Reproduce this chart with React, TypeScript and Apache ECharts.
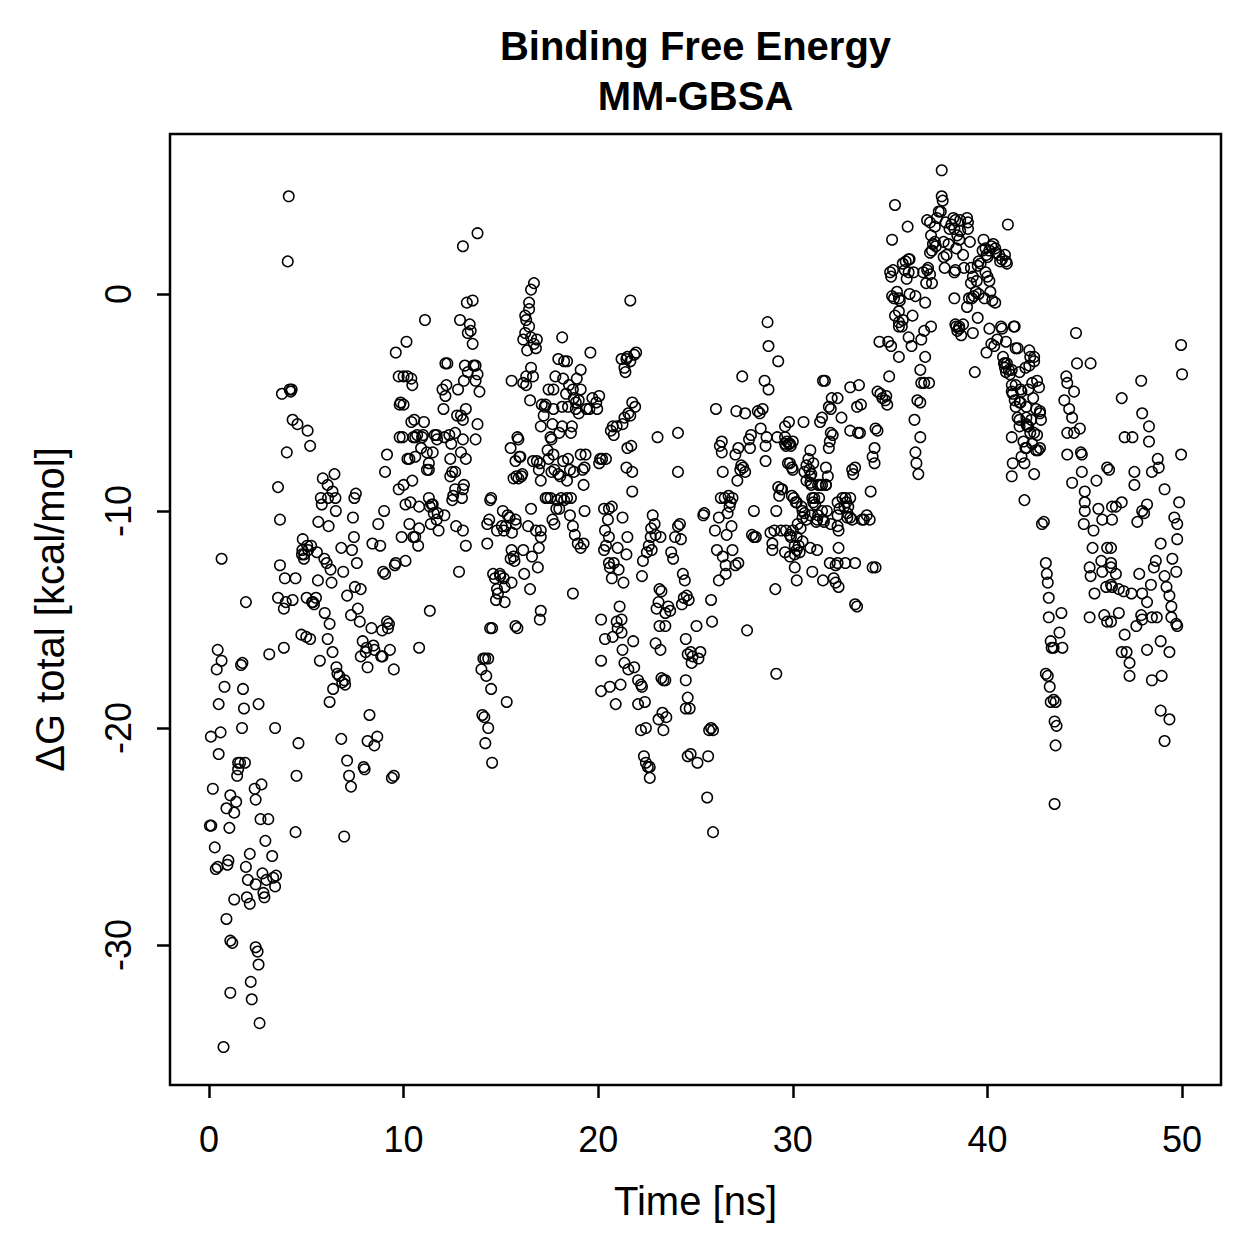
import { useEffect, useRef } from "react";
import * as echarts from "echarts";

const titleLines = ["Binding Free Energy", "MM-GBSA"];
const xLabel = "Time [ns]";
const yLabel = "ΔG total [kcal/mol]";
const xTicks = [0, 10, 20, 30, 40, 50];
const yTicks = [-30, -20, -10, 0];
const xRange = [-2, 52];
const yRange = [-36.45, 7.37];

// [time (ns), dG (kcal/mol)]
const seg0to5 = [
  [0.1,-20.4],[0.05,-24.5],[0.12,-24.5],[0.2,-22.8],[0.3,-25.5],[0.45,-26.4],[0.35,-26.5],[0.5,-18.9],[0.4,-17.3],[0.45,-16.4],
  [0.65,-16.9],[0.5,-21.2],[0.6,-20.2],[0.65,-12.2],[0.75,-34.7],[0.8,-18.1],[0.9,-28.8],[0.9,-23.7],[0.95,-26.3],[1.0,-26.1],
  [1.05,-24.6],[1.1,-23.1],[1.1,-29.8],[1.2,-29.9],[1.1,-32.2],[1.3,-27.9],[1.3,-23.9],[1.4,-23.4],[1.5,-21.9],[1.5,-21.6],[1.6,-21.6],
  [1.45,-22.2],[1.65,-17.1],[1.72,-17.0],[1.7,-20.0],[1.75,-18.2],[1.8,-19.1],[1.85,-21.6],[1.9,-26.4],[1.95,-27.8],[1.9,-14.2],
  [2.0,-27.0],[2.1,-25.8],[2.1,-28.1],[2.15,-31.7],[2.2,-32.5],[2.35,-22.8],[2.4,-23.3],[2.4,-27.2],[2.4,-30.1],[2.5,-30.3],
  [2.55,-30.9],[2.6,-33.6],[2.55,-18.9],[2.65,-24.2],[2.7,-22.6],[2.75,-26.7],[2.8,-27.6],[2.85,-27.8],[2.9,-25.2],[2.95,-27.0],
  [3.05,-24.2],[3.1,-16.6],[3.25,-25.9],[3.3,-26.9],[3.4,-27.3],[3.45,-26.8],[3.4,-20.0],[3.55,-8.9],[3.55,-14.0],[3.65,-10.4],
  [3.65,-12.5],[3.75,-4.6],[3.85,-16.3],[3.9,-13.1],[3.85,-14.5],[3.95,-14.2],[4.0,-7.3],[4.1,4.5],[4.05,1.5],[4.15,-4.4],
  [4.25,-4.4],[4.2,-4.5],[4.3,-5.8],[4.3,-14.1],[4.45,-13.1],[4.45,-24.8],[4.5,-22.2],[4.6,-20.7],[4.55,-6.0],[4.75,-15.7]
];

const seg5to10 = [
  [4.8,-11.8],[4.78,-12.0],[4.82,-11.3],[4.9,-12.0],[4.88,-12.2],[5.0,-15.8],[5.02,-14.0],[5.07,-6.3],[5.05,-11.6],[5.1,-11.8],
  [5.2,-15.9],[5.2,-7.0],[5.25,-11.6],[5.3,-14.2],[5.35,-14.2],[5.4,-14.3],[5.5,-14.0],[5.55,-11.9],[5.6,-13.2],[5.62,-10.5],
  [5.7,-16.9],[5.85,-8.5],[5.75,-9.4],[5.8,-9.7],[5.95,-14.7],[5.93,-12.2],[6.05,-12.4],[6.1,-8.8],[6.12,-9.4],[6.15,-10.7],
  [6.2,-15.2],[6.1,-15.9],[6.2,-18.8],[6.3,-13.3],[6.25,-12.7],[6.35,-16.5],[6.38,-18.2],[6.35,-9.1],[6.45,-8.3],[6.5,-9.4],
  [6.52,-10.0],[6.55,-17.2],[6.6,-17.5],[6.7,-17.6],[6.8,-11.7],[6.8,-20.5],[6.9,-12.8],[6.85,-17.9],[6.95,-25.0],[6.97,-17.8],
  [7.1,-13.9],[7.0,-18.0],[7.2,-22.2],[7.3,-22.7],[7.1,-21.5],[7.3,-14.8],[7.35,-11.8],[7.4,-10.3],[7.45,-11.2],[7.47,-9.4],
  [7.5,-13.5],[7.55,-9.2],[7.6,-12.4],[7.65,-14.5],[7.75,-15.1],[7.8,-13.6],[7.8,-16.7],[7.9,-16.0],[8.0,-21.9],[7.95,-21.8],
  [8.05,-16.5],[8.1,-16.3],[8.15,-20.6],[8.25,-19.4],[8.15,-17.2],[8.35,-15.4],[8.45,-16.2],[8.4,-11.5],[8.5,-20.8],[8.5,-16.4],
  [8.65,-20.4],[8.8,-11.6],[8.7,-10.6],[8.85,-16.7],[8.9,-15.5],[8.92,-16.7],[9.0,-10.0],[9.05,-8.2],[9.15,-7.4],[8.95,-12.8],
  [9.05,-12.9],[9.2,-15.4],[9.25,-15.2],[9.3,-16.4],[9.15,-15.1],[9.4,-22.3],[9.5,-22.2],[9.5,-17.3],[9.55,-12.5],[9.6,-12.4]
];

const seg10to14 = [
  [9.6,-2.7],[10.15,-2.2],[9.75,-3.8],[10.0,-3.8],[10.2,-3.8],[10.4,-3.9],[10.45,-4.2],[9.85,-5.0],[9.8,-5.1],[10.0,-5.1],
  [10.4,-5.9],[10.55,-5.8],[10.6,-6.6],[10.5,-6.6],[9.95,-6.6],[9.8,-6.6],[10.2,-7.6],[10.3,-7.6],[9.75,-9.0],[10.0,-8.8],
  [10.45,-8.6],[10.35,-9.6],[10.1,-9.7],[10.3,-10.6],[10.5,-11.2],[10.6,-11.2],[9.9,-11.2],[10.8,-9.8],[10.8,-10.8],[10.75,-11.6],
  [10.6,-7.5],[10.9,-7.1],[10.95,-6.6],[10.7,-6.5],[11.05,-5.9],[11.0,-6.5],[11.1,-1.2],[11.3,-7.8],[11.3,-8.1],[11.2,-8.1],
  [11.2,-7.3],[11.3,-9.4],[11.35,-9.8],[11.4,-10.6],[11.45,-9.7],[11.5,-9.7],[11.55,-10.1],[11.35,-14.6],[11.5,-7.3],[11.6,-6.5],
  [11.7,-6.5],[11.72,-6.7],[11.75,-10.1],[11.7,-10.4],[11.8,-10.9],[12.1,-10.2],[12.05,-5.3],[12.1,-6.6],[12.2,-4.2],[12.15,-4.7],
  [12.0,-4.4],[12.25,-3.2],[12.15,-3.2],[12.35,-6.5],[12.4,-7.6],[12.45,-6.9],[12.4,-8.4],[12.5,-8.2],[12.5,-9.5],[12.65,-8.2],
  [12.55,-9.3],[12.7,-10.7],[12.65,-9.0],[12.65,-6.4],[12.75,-5.6],[12.8,-4.4],[12.95,-5.6],[12.95,-7.3],[13.05,-6.7],[13.05,-5.8],
  [13.0,-9.4],[13.05,-10.9],[13.05,-9.0],[13.2,-11.6],[13.1,-8.8],[13.2,-7.6],[13.2,-5.3],[13.1,-4.0],[13.15,-3.3],[13.3,-3.6],
  [12.85,-12.8],[13.3,-1.8],[13.4,-1.4],[13.55,-0.3],[13.25,-0.4],[12.9,-1.2],[13.05,2.2],[13.8,2.8],[13.55,-2.3],[13.45,-1.7],
  [13.6,-3.3],[13.7,-4.0],[13.7,-3.3],[13.8,-3.7],[13.8,-6.0],[13.7,-6.7],[13.9,-4.5],[10.1,-12.3],[10.8,-16.3]
];

const seg14to18 = [
  [14.1,-16.8],[14.2,-16.8],[14.25,-17.6],[14.35,-16.8],[14.0,-17.3],[14.05,-19.4],[14.15,-19.5],[14.2,-20.7],[14.35,-20.0],[14.5,-18.2],
  [14.55,-15.4],[14.45,-15.4],[14.55,-21.6],[14.3,-10.6],[14.3,-11.5],[14.4,-10.4],[14.45,-9.5],[14.5,-9.4],[14.6,-12.9],[14.7,-13.1],
  [14.8,-10.9],[14.75,-14.1],[14.8,-13.6],[14.85,-13.8],[14.95,-12.9],[14.97,-13.0],[15.05,-10.7],[15.1,-10.0],[15.15,-13.1],[15.2,-13.5],
  [15.2,-14.2],[15.25,-10.7],[15.3,-18.8],[15.15,-10.9],[15.35,-10.2],[15.45,-10.3],[15.5,-12.2],[15.55,-11.8],[15.55,-13.3],[15.57,-11.0],
  [15.65,-12.1],[15.75,-10.4],[15.7,-12.3],[15.77,-10.6],[15.75,-15.3],[15.85,-15.4],[15.8,-8.4],[15.9,-8.5],[15.5,-7.1],[15.55,-4.0],
  [15.65,-8.5],[15.75,-7.7],[15.95,-7.5],[16.05,-8.4],[16.1,-8.3],[16.0,-7.5],[15.9,-6.7],[15.85,-6.6],[16.15,-4.1],[16.25,-1.8],
  [16.35,-2.6],[16.3,-1.2],[16.45,-0.4],[16.55,0.2],[16.7,0.5],[16.7,-2.3],[16.8,-2.5],[16.55,-3.4],[16.5,-4.9],[16.3,-4.2],
  [16.15,-2.1],[16.4,-10.7],[16.15,-11.8],[16.2,-12.9],[16.5,-13.6],[16.6,-12.1],[16.55,-9.9],[16.8,-10.9],[16.9,-12.6],[17.05,-10.9],
  [16.95,-11.7],[17.0,-15.0],[17.05,-14.6],[17.05,-11.2],[17.0,-7.8],[17.05,-8.6],[16.95,-8.1],[16.65,-7.7],[16.85,-7.7],[17.05,-6.1],
  [17.3,-5.1],[17.45,-4.4],[17.45,-7.6],[17.6,-8.2],[17.55,-6.6],[17.7,-7.4],[17.75,-8.1],[16.45,-0.7],[16.25,-1.0],[16.45,-1.5],
  [16.55,-2.0],[16.85,-2.1],[18.15,-2.0],[17.95,-3.0],[18.4,-3.1],[19.1,-3.5],[16.3,-3.8],[16.65,-3.8],[17.8,-3.8],[17.7,-4.4]
];

const seg18to25 = [
  [17.1,-5.1],[17.2,-5.6],[17.25,-5.2],[17.3,-9.4],[17.4,-9.4],[17.55,-9.4],[17.4,-7.2],[17.6,-6.7],[17.65,-6.0],[17.7,-5.3],
  [17.9,-9.5],[17.95,-8.3],[18.0,-6.4],[18.15,-6.1],[18.25,-3.1],[18.15,-5.2],[18.2,-3.9],[18.35,-4.6],[18.45,-5.2],[18.5,-4.2],
  [18.7,-4.4],[18.75,-4.8],[18.9,-3.9],[19.0,-4.9],[19.1,-4.4],[18.85,-5.0],[18.65,-6.1],[18.6,-6.4],[18.85,-5.3],[19.0,-5.5],
  [19.2,-8.1],[19.3,-8.0],[19.35,-7.4],[19.1,-7.4],[18.75,-8.2],[18.55,-8.1],[18.45,-7.6],[18.4,-8.6],[18.2,-7.7],[18.05,-8.4],
  [17.85,-9.9],[17.65,-10.4],[17.75,-10.6],[18.0,-9.9],[18.1,-9.4],[18.25,-9.5],[18.4,-9.4],[18.6,-9.4],[18.55,-10.2],[18.7,-10.7],
  [18.8,-11.1],[18.95,-11.5],[19.1,-11.7],[19.25,-11.5],[19.3,-10.0],[19.25,-8.8],[19.4,-5.3],[19.55,-5.3],[19.6,-2.7],[19.7,-4.8],
  [19.9,-5.0],[19.95,-5.3],[20.05,-4.7],[20.1,-7.6],[20.05,-7.8],[20.2,-7.6],[20.3,-9.9],[20.3,-11.8],[20.4,-11.6],[20.35,-10.9],
  [20.5,-10.4],[20.55,-9.9],[20.6,-12.6],[20.55,-11.2],[20.7,-9.8],[20.4,-7.6],[20.65,-6.3],[20.75,-6.1],[20.8,-6.5],[20.95,-6.1],
  [21.0,-11.7],[21.05,-12.7],[20.8,-12.4],[20.55,-12.4],[20.7,-13.1],[20.75,-15.8],[20.35,-15.9],[20.15,-15.0],[20.15,-16.9],[20.15,-18.3],
  [20.6,-18.1],[20.9,-18.9],[20.95,-15.1],[21.0,-15.4],[21.2,-15.6],[21.25,-6.0],[21.35,-5.7],[21.2,-3.0],[21.45,-3.0],[21.35,-3.4],
  [21.4,-3.6],[21.5,-2.9],[21.65,-0.3],[21.65,-3.1],[21.85,-2.8],[21.95,-2.7],[21.55,-5.5],[21.65,-5.6],[21.75,-5.0],[21.9,-5.2],
  [21.7,-7.0],[21.5,-7.1],[21.45,-8.0],[21.75,-8.2],[21.75,-9.1],[21.25,-10.3],[21.5,-11.2],[21.45,-12.0],[21.1,-14.4],[21.3,-13.3],
  [21.25,-16.4],[21.2,-15.0],[21.15,-18.0],[21.35,-17.0],[21.55,-17.3],[21.8,-16.0],[21.85,-17.2],[22.05,-17.8],[22.2,-18.0],[22.05,-18.9],
  [22.2,-20.1],[22.4,-18.8],[22.45,-20.0],[22.35,-21.3],[22.45,-21.6],[22.55,-21.8],[22.65,-21.8],[22.65,-22.3],[22.25,-18.1],[22.25,-13.0],
  [22.3,-12.3],[22.5,-11.9],[22.6,-11.6],[22.7,-11.2],[22.72,-10.8],[22.75,-11.8],[22.8,-10.2],[22.9,-10.6],[22.95,-11.1],[23.05,-6.6],
  [23.2,-11.2],[23.25,-13.7],[23.15,-13.6],[23.1,-14.2],[23.0,-14.5],[23.15,-15.3],[22.95,-16.1],[23.2,-16.4],[23.25,-17.7],[23.35,-17.8],
  [23.45,-17.8],[23.3,-19.3],[23.1,-19.6],[23.35,-20.1],[23.5,-19.5],[23.45,-15.3],[23.45,-14.7],[23.6,-14.4],[23.7,-14.6],[23.75,-11.9],
  [23.85,-12.2],[23.95,-11.2],[24.1,-6.4],[24.1,-10.7],[24.2,-10.6],[24.1,-8.2],[24.25,-11.3],[24.35,-12.9],[24.45,-13.2],[24.4,-14.0],
  [24.3,-14.3],[24.55,-13.9],[24.65,-14.1],[24.5,-15.9],[24.6,-16.6],[24.75,-16.5],[24.8,-17.0],[24.85,-16.7],[24.5,-17.8],[24.6,-18.6],
  [24.5,-19.1],[24.7,-19.1],[24.75,-21.2],[24.6,-21.3],[25.1,-21.6],[25.05,-15.3],[25.15,-16.8],[25.25,-16.5],[18.7,-13.8]
];

const seg25to35 = [
  [25.4,-10.2],[25.45,-10.1],[25.65,-21.3],[25.6,-23.2],[25.9,-24.8],[25.7,-20.1],[25.8,-20.0],[25.9,-20.1],[25.85,-15.1],[25.8,-14.1],
  [26.0,-10.9],[26.1,-11.8],[26.2,-13.2],[26.05,-5.3],[26.2,-10.3],[26.3,-9.4],[26.35,-7.3],[26.4,-8.2],[26.25,-7.0],[26.35,-6.8],
  [26.4,-12.1],[26.55,-12.9],[26.55,-12.5],[26.6,-11.1],[26.5,-9.4],[26.65,-10.1],[26.7,-9.3],[26.8,-9.6],[26.9,-9.4],[26.75,-9.8],
  [26.85,-10.7],[26.9,-11.8],[27.05,-12.5],[27.2,-12.4],[27.15,-8.6],[27.3,-8.1],[27.1,-5.4],[27.05,-7.4],[27.2,-7.1],[27.35,-7.9],
  [27.45,-8.0],[27.55,-8.2],[27.4,-3.8],[27.55,-5.5],[27.65,-15.5],[27.75,-6.7],[27.8,-7.1],[27.85,-6.5],[27.9,-11.1],[28.0,-11.2],
  [28.1,-11.2],[28.0,-10.0],[28.2,-5.4],[28.35,-6.2],[28.3,-5.5],[28.45,-5.3],[28.6,-7.0],[28.6,-7.7],[28.65,-6.6],[28.55,-4.0],
  [28.75,-4.4],[28.7,-1.3],[28.75,-2.4],[28.85,-11.0],[28.95,-11.5],[29.05,-10.9],[29.1,-13.6],[29.15,-17.5],[29.25,-8.9],[29.3,-9.3],
  [29.4,-9.0],[29.25,-3.1],[29.6,-6.1],[29.6,-6.9],[29.65,-7.0],[29.7,-6.8],[29.8,-6.9],[29.85,-6.9],[29.9,-7.0],[30.0,-6.8],
  [29.75,-7.8],[29.85,-7.8],[29.95,-8.0],[30.0,-8.1],[29.8,-5.9],[29.65,-10.9],[29.85,-11.1],[29.9,-11.2],[29.95,-9.3],[30.05,-9.4],
  [30.15,-9.6],[30.1,-11.6],[30.2,-11.8],[30.1,-12.0],[30.3,-11.6],[30.35,-11.9],[30.25,-10.6],[30.4,-10.8],[30.5,-10.3],[30.6,-10.1],
  [30.7,-10.4],[30.7,-7.9],[30.8,-7.6],[30.85,-8.1],[30.9,-8.4],[30.9,-8.7],[30.95,-8.8],[31.0,-9.4],[31.05,-9.6],[31.1,-9.4],
  [30.55,-5.9],[31.15,-9.7],[31.2,-10.5],[31.3,-10.2],[31.3,-8.8],[31.4,-8.8],[31.5,-8.8],[31.55,-10.4],[31.5,-10.0],[31.4,-5.9],
  [31.5,-5.7],[31.55,-4.0],[31.65,-4.0],[31.85,-5.2],[31.95,-5.3],[31.95,-6.4],[32.05,-6.5],[31.9,-6.8],[31.85,-7.1],[31.7,-8.0],
  [31.8,-8.4],[31.7,-8.8],[31.75,-10.0],[31.9,-12.4],[32.1,-13.1],[32.2,-13.3],[32.2,-12.5],[32.3,-12.4],[32.35,-10.9],[32.3,-10.2],
  [32.4,-9.9],[32.55,-9.4],[32.7,-9.4],[32.75,-9.6],[32.85,-9.8],[32.8,-10.1],[32.95,-10.3],[32.95,-9.4],[33.05,-8.1],[33.1,-8.3],
  [33.2,-8.0],[33.3,-5.2],[33.4,-4.2],[33.35,-6.4],[33.45,-6.4],[33.2,-12.4],[33.3,-14.4],[33.55,-10.4],[33.65,-10.4],[33.8,-10.2],
  [33.95,-10.4],[34.0,-9.1],[34.1,-7.5],[34.2,-7.8],[34.25,-6.2],[34.35,-6.3],[34.2,-7.1],[34.1,-12.6],[34.25,-12.6],[34.35,-4.5],
  [34.5,-4.6],[34.6,-4.8],[34.75,-4.9],[34.8,-4.7],[34.85,-5.1],[34.95,-3.8],[34.9,-2.2],
  [30.9,-7.2],[32.95,-4.3],[32.0,-4.8],[32.3,-4.8],[32.5,-5.7],[32.95,-6.3],[29.6,-6.6],[29.2,-6.6],[31.05,-7.8],[30.95,-8.3],
  [30.6,-8.2],[30.7,-8.6],[31.7,-8.8],[29.45,-9.0],[30.2,-9.6],[30.45,-9.8],[31.35,-9.4],[32.3,-9.6],[32.65,-9.8],[32.8,-10.3],
  [33.05,-10.4],[29.15,-10.0],[30.5,-10.0],[30.9,-10.2],[31.25,-10.4],[31.6,-10.5],[31.95,-10.6],[32.3,-10.7],[29.4,-10.9],[30.0,-10.9],
  [30.2,-11.2],[30.5,-11.4],[28.95,-11.8],[29.6,-11.9],[29.85,-12.1],[30.9,-11.7],[31.25,-11.8],[32.35,-11.7],[32.7,-12.4],[30.1,-12.6],
  [30.2,-13.2],[31.0,-12.8],[31.55,-13.2],[32.35,-13.5],[33.2,-14.3]
];

const seg35to43 = [
  [35.0,1.0],[35.05,0.8],[35.1,-0.1],[35.2,-0.2],[35.25,-1.0],[35.15,1.1],[35.1,2.5],[35.25,4.1],[35.35,0.1],[35.5,-0.3],
  [35.45,-1.3],[35.6,-1.5],[35.65,-1.2],[35.65,1.4],[35.8,1.5],[35.75,1.1],[35.85,0.7],[35.95,1.0],[36.0,0.0],[35.9,3.1],
  [36.0,1.6],[36.1,-2.4],[36.25,-5.8],[36.4,-4.9],[36.3,-7.3],[36.35,-7.8],[36.45,-8.3],[36.55,-6.6],[36.6,-4.1],[36.55,-3.5],
  [36.75,-4.1],[36.8,-2.9],[36.75,-1.7],[36.85,0.5],[36.9,1.1],[36.95,1.2],[37.05,3.3],[37.05,1.9],[37.15,2.0],[37.1,2.7],
  [37.2,2.3],[37.3,2.4],[37.35,2.2],[37.3,3.1],[37.4,3.5],[37.5,3.8],[37.6,3.8],[37.65,4.5],[37.65,5.7],[37.7,4.3],
  [37.75,2.4],[37.75,1.7],[37.8,1.2],[37.85,3.3],[38.0,2.3],[38.05,3.0],[38.15,3.2],[38.25,3.5],[38.35,3.4],[38.4,2.1],
  [38.45,2.7],[38.35,1.1],[38.3,-0.2],[38.35,-1.4],[38.4,-1.5],[38.45,-1.7],[38.55,-1.6],[38.65,-1.9],[38.75,-1.4],[38.6,3.4],
  [38.6,2.9],[38.8,1.2],[38.75,1.8],[38.95,3.5],[39.0,3.0],[39.1,2.4],[39.15,1.2],[39.25,0.8],[39.2,-0.2],[39.3,-0.1],
  [39.4,0.1],[39.35,-3.6],[39.45,0.6],[39.5,1.3],[39.55,1.5],[39.65,1.4],[39.75,2.0],[39.8,2.5],[39.9,2.1],[39.95,1.8],
  [40.0,1.7],[40.1,2.0],[40.2,2.2],[40.3,2.3],[40.4,2.1],[40.45,1.9],[40.6,1.8],[40.65,1.5],[40.75,1.6],[40.9,1.8],
  [40.95,1.5],[41.0,1.4],[41.05,3.2],[39.9,1.0],[40.0,0.8],[40.1,0.6],[40.15,0.1],[40.25,-0.3],[39.85,-0.2],[40.1,-1.6],
  [40.2,-2.3],[40.35,-2.4],[40.5,-2.1],[40.7,-1.5],[40.8,-2.9],[40.85,-3.2],[40.9,-3.4],[40.95,-3.6],[41.0,-3.2],[41.1,-3.5],
  [41.15,-3.7],[41.25,-4.2],[41.3,-4.6],[41.4,-4.9],[41.45,-5.2],[41.55,-5.7],[41.65,-6.1],[41.45,-4.2],[41.35,-1.5],[41.55,-2.5],
  [41.7,-5.0],[41.75,-4.5],[41.85,-6.8],[41.75,-7.5],[41.9,-7.8],[41.95,-7.1],[42.0,-6.0],[42.1,-6.1],[42.2,-6.4],[42.25,-5.8],
  [42.15,-3.3],[42.2,-2.9],[42.3,-4.1],[42.4,-6.4],[42.5,-7.2],[42.4,-8.3],[42.4,-2.9],[42.55,-4.0],[42.65,-4.3],[42.7,-5.4],
  [42.75,-5.8],[42.7,-7.1],[42.8,-10.6],[42.9,-10.5],[43.0,-12.4],[43.05,-12.9],[43.1,-13.3],[43.15,-14.0],[43.15,-14.9],[43.25,-16.0],
  [43.3,-16.3],[43.4,-16.3],[43.0,-17.5],[43.1,-17.6],[43.2,-18.1],[43.25,-18.8],[43.4,-18.7],[43.5,-18.8],[43.45,-19.7],[43.55,-19.9],
  [43.5,-20.8],[43.45,-23.5],
  [36.9,3.4],[35.95,1.6],[36.2,1.0],[36.7,1.0],[37.05,0.9],[37.15,0.5],[35.45,-0.2],[36.3,-0.1],[36.8,-0.4],[35.45,-0.8],
  [36.15,-1.0],[35.45,-1.5],[35.95,-2.0],[36.6,-2.1],[37.1,-1.5],[34.45,-2.2],[35.05,-2.4],[35.45,-2.9],[37.0,-4.1],[36.55,-5.0],
  [33.5,-5.1],[39.0,3.3],[38.3,3.0],[38.55,2.5],[37.9,1.8],[38.3,1.0],[39.15,0.5],[39.55,0.0],[39.05,-0.2],[38.95,-0.6],
  [40.4,-0.4],[38.55,-1.5],[39.25,-1.8],[39.5,-1.1],[39.95,-2.7],[40.75,-1.6],[41.4,-1.5],[40.95,-2.2],[41.45,-2.5],[40.9,-3.2],
  [41.25,-3.5],[41.65,-3.6],[41.95,-3.4],[41.25,-4.5],[41.7,-4.4],[41.65,-5.0],[42.0,-5.2],[41.65,-5.8],[42.0,-5.7],[41.25,-6.6],
  [42.0,-7.1],[41.3,-7.8],[41.25,-8.4]
];

const seg43to50 = [
  [44.55,-1.8],[44.6,-3.2],[45.3,-3.2],[42.15,-2.6],[42.4,-3.1],[44.05,-3.8],[44.1,-4.1],[44.45,-4.5],[42.1,-4.4],[42.35,-4.8],
  [42.5,-5.3],[42.7,-5.5],[43.95,-4.9],[44.2,-5.3],[44.35,-5.7],[44.75,-6.2],[44.45,-6.4],[44.1,-6.4],[42.05,-6.1],[42.55,-6.5],
  [42.3,-6.9],[42.6,-7.2],[44.1,-7.4],[44.8,-7.3],[44.85,-7.4],[44.85,-8.2],[44.35,-8.7],[45.6,-8.6],[46.15,-8.0],[45.0,-9.1],
  [45.0,-9.6],[45.0,-10.0],[45.7,-9.9],[46.4,-9.8],[41.9,-9.5],[44.95,-10.6],[45.45,-10.9],[45.9,-10.4],[45.4,-11.7],[46.15,-11.7],
  [45.25,-12.6],[45.85,-12.3],[45.3,-13.0],[45.9,-12.8],[46.35,-12.6],[45.5,-13.8],[46.1,-13.5],[46.35,-13.4],[43.8,-14.7],[45.25,-14.9],
  [46.0,-14.8],[46.15,-15.1],[43.7,-15.6],[43.85,-16.3],
  [49.95,-2.35],[50.0,-3.7],[47.9,-4.0],[46.9,-4.8],[47.95,-5.5],[48.3,-6.1],[48.3,-6.8],[47.05,-6.6],[47.45,-6.6],[49.95,-7.4],
  [48.75,-7.6],[48.8,-8.0],[48.45,-8.2],[47.55,-8.2],[47.55,-8.8],[46.25,-8.1],[49.1,-9.0],[49.85,-9.6],[46.9,-9.6],[46.6,-9.8],
  [46.4,-10.4],[48.2,-9.7],[47.95,-10.0],[48.05,-10.1],[47.7,-10.5],[49.6,-10.3],[49.75,-10.6],[48.9,-11.5],[49.75,-11.3],[46.35,-11.7],
  [48.65,-12.3],[48.55,-12.6],[49.5,-12.2],[49.7,-12.8],[46.35,-12.4],[46.6,-12.9],[46.4,-13.5],[46.75,-13.6],[47.0,-13.7],[47.4,-13.8],
  [47.8,-12.9],[47.95,-13.8],[48.4,-13.4],[49.1,-13.0],[49.2,-13.5],[49.35,-13.9],[48.2,-14.2],[49.45,-14.4],[46.75,-14.7],[46.35,-15.1],
  [47.9,-14.8],[47.95,-15.0],[48.45,-14.9],[48.7,-14.9],[49.45,-14.9],[49.7,-15.2],[49.75,-15.3],[47.65,-15.3],[47.05,-15.7],[48.9,-16.0],
  [49.35,-16.5],[46.9,-16.5],[47.15,-16.5],[47.3,-17.0],[48.2,-16.4],[47.3,-17.6],[48.45,-17.8],[48.95,-17.6],[48.9,-19.2],[49.35,-19.6],
  [49.1,-20.6]
];

const FONT = "'Liberation Sans', Arial, Helvetica, sans-serif";

export default function App() {
  const ref = useRef<HTMLDivElement>(null);
  useEffect(() => {
    const chart = echarts.init(ref.current!, null, { renderer: "svg" });
    const data = [
      ...seg0to5, ...seg5to10, ...seg10to14, ...seg14to18,
      ...seg18to25, ...seg25to35, ...seg35to43, ...seg43to50,
    ];
    chart.setOption({
      animation: false,
      backgroundColor: "#ffffff",
      grid: {
        left: 170, top: 134, width: 1051, height: 951,
        show: true, borderColor: "#000", borderWidth: 2.5, backgroundColor: "transparent",
      },
      xAxis: {
        type: "value", min: xRange[0], max: xRange[1],
        splitLine: { show: false },
        axisLine: { show: false, onZero: false },
        axisTick: { show: true, customValues: xTicks, length: 13, inside: false, lineStyle: { color: "#000", width: 2.5 } },
        axisLabel: { customValues: xTicks, fontSize: 36, color: "#000", fontFamily: FONT, margin: 36 },
        name: xLabel, nameLocation: "middle", nameGap: 96,
        nameTextStyle: { fontSize: 40, color: "#000", fontFamily: FONT },
      },
      yAxis: {
        type: "value", min: yRange[0], max: yRange[1],
        splitLine: { show: false },
        axisLine: { show: false, onZero: false },
        axisTick: { show: true, customValues: yTicks, length: 13, inside: false, lineStyle: { color: "#000", width: 2.5 } },
        axisLabel: { customValues: yTicks, fontSize: 36, color: "#000", fontFamily: FONT, margin: 34, rotate: 90 },
        name: yLabel, nameLocation: "middle", nameGap: 100, nameRotate: 90,
        nameTextStyle: { fontSize: 40, color: "#000", fontFamily: FONT },
      },
      graphic: [
        {
          type: "text", x: 695.5, y: 46,
          style: { text: titleLines[0], fontSize: 40, fontWeight: "bold", fontFamily: FONT, fill: "#000", textAlign: "center", textVerticalAlign: "middle" },
        },
        {
          type: "text", x: 695.5, y: 96,
          style: { text: titleLines[1], fontSize: 40, fontWeight: "bold", fontFamily: FONT, fill: "#000", textAlign: "center", textVerticalAlign: "middle" },
        },
      ],
      series: [
        {
          type: "scatter",
          data,
          symbol: "circle",
          symbolSize: 10.5,
          silent: true,
          itemStyle: { color: "rgba(0,0,0,0)", borderColor: "#000", borderWidth: 1.5, opacity: 1 },
        },
      ],
    });
    return () => chart.dispose();
  }, []);
  return <div ref={ref} style={{ position: "fixed", left: 0, top: 0, width: 1259, height: 1259 }} />;
}
